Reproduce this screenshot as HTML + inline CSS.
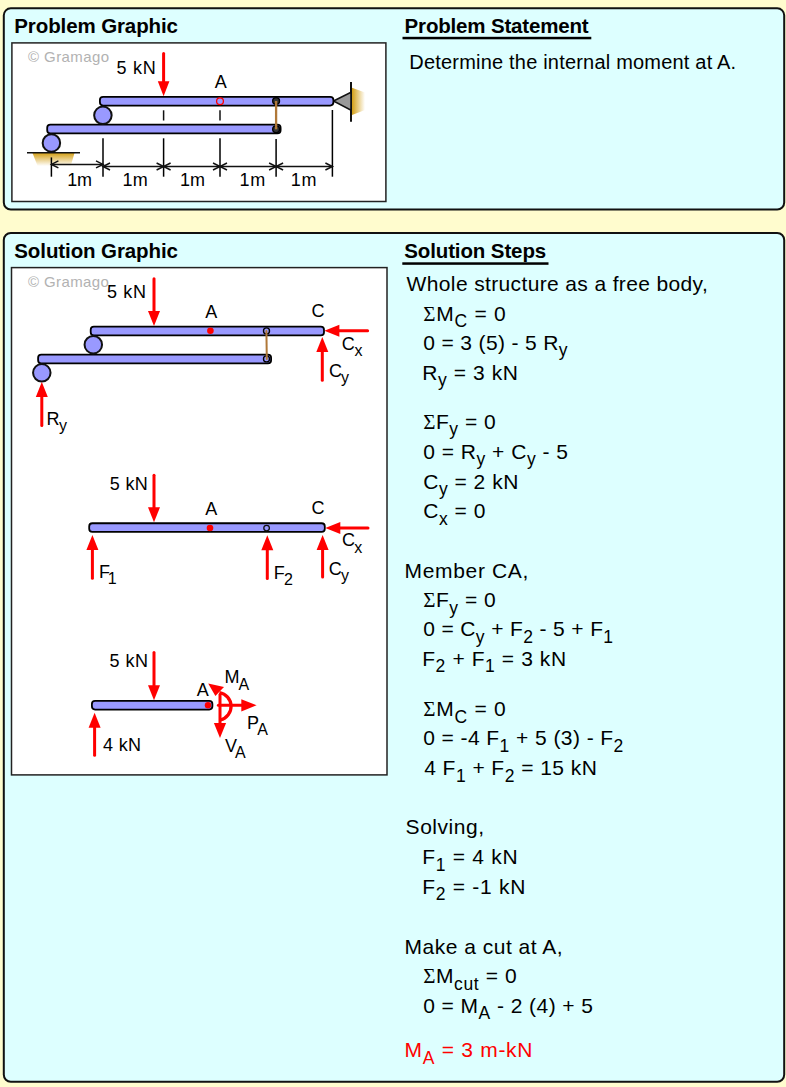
<!DOCTYPE html>
<html><head><meta charset="utf-8"><style>
html,body{margin:0;padding:0;background:#FFFCCE;width:786px;height:1087px;overflow:hidden}
svg{position:absolute;left:0;top:0}
</style></head><body>
<svg width="786" height="1087" viewBox="0 0 786 1087">
<defs>
<linearGradient id="gd" x1="0" y1="0" x2="0" y2="1"><stop offset="0" stop-color="#D4A017"/><stop offset="1" stop-color="#D4A017" stop-opacity="0"/></linearGradient>
<linearGradient id="gr" x1="0" y1="0" x2="1" y2="0"><stop offset="0" stop-color="#D4A017"/><stop offset="1" stop-color="#D4A017" stop-opacity="0"/></linearGradient>
</defs>
<rect x="0" y="0" width="786" height="1087" fill="#FFFCCE"/>
<rect x="3.8" y="8.3" width="780.4" height="201.2" rx="7" fill="#DDFFFF" stroke="#111" stroke-width="2"/>
<rect x="3.8" y="233" width="780.4" height="848.8" rx="7" fill="#DDFFFF" stroke="#111" stroke-width="2"/>
<rect x="11.9" y="42.9" width="374" height="158.6" fill="#fff" stroke="#222" stroke-width="1.5"/>
<rect x="11.5" y="267.6" width="375.5" height="507.3" fill="#fff" stroke="#222" stroke-width="1.5"/>

<text x="14.30" y="33.1" font-family="Liberation Sans" font-size="20.5" font-weight="700" fill="#000" letter-spacing="-0.107" xml:space="preserve">Problem Graphic</text>
<text x="404.60" y="33.4" font-family="Liberation Sans" font-size="20.5" font-weight="700" fill="#000" letter-spacing="-0.175" xml:space="preserve">Problem Statement</text>
<rect x="402.5" y="36.8" width="188.8" height="2.5" fill="#000"/>
<text x="409.30" y="68.5" font-family="Liberation Sans" font-size="20" font-weight="400" fill="#000" letter-spacing="0.197" xml:space="preserve">Determine the internal moment at A.</text>
<text x="14.30" y="258.1" font-family="Liberation Sans" font-size="20.5" font-weight="700" fill="#000" letter-spacing="-0.100" xml:space="preserve">Solution Graphic</text>
<text x="404.20" y="258.1" font-family="Liberation Sans" font-size="20.5" font-weight="700" fill="#000" letter-spacing="-0.115" xml:space="preserve">Solution Steps</text>
<rect x="402.3" y="262.3" width="146.2" height="2.5" fill="#000"/>
<text x="28.10" y="61.8" font-family="Liberation Sans" font-size="15" font-weight="400" fill="#b2b2b2" letter-spacing="0.400" xml:space="preserve">© Gramago</text>
<polygon points="32.5,153 74.5,153 70.7,166 37.6,166" fill="url(#gd)"/>
<line x1="27" y1="152.8" x2="80" y2="152.8" stroke="#111" stroke-width="1.5"/>
<polygon points="352,87.7 365,92.6 365,110 352,115" fill="url(#gr)"/>
<line x1="351" y1="82" x2="351" y2="121.7" stroke="#111" stroke-width="2"/>
<polygon points="333.5,101 351,92.3 351,110.1" fill="#999" stroke="#111" stroke-width="1.6" stroke-linejoin="miter"/>
<rect x="47.199999999999996" y="124.65" width="233.39999999999998" height="8.7" rx="3.2" fill="#9999FF" stroke="#000" stroke-width="1.8"/>
<circle cx="51.4" cy="142.9" r="8.75" fill="#9999FF" stroke="#111" stroke-width="2"/>
<rect x="99.9" y="96.85000000000001" width="233.5" height="8.7" rx="3.2" fill="#9999FF" stroke="#000" stroke-width="1.8"/>
<circle cx="102.9" cy="115.3" r="8.75" fill="#9999FF" stroke="#111" stroke-width="2"/>
<circle cx="276.1" cy="101" r="3.4" fill="#333" stroke="#000" stroke-width="1.4"/>
<circle cx="276.1" cy="129.3" r="3.4" fill="#333" stroke="#000" stroke-width="1.4"/>
<line x1="276.1" y1="101" x2="276.1" y2="129.3" stroke="#B07838" stroke-width="2.3"/>
<circle cx="220" cy="101.2" r="3.4" fill="#9999FF" stroke="#FF0000" stroke-width="1.3"/>
<line x1="163.6" y1="110.3" x2="163.6" y2="120.5" stroke="#111" stroke-width="1.5"/>
<line x1="220" y1="110.3" x2="220" y2="120.5" stroke="#111" stroke-width="1.5"/>
<line x1="51.4" y1="157.4" x2="51.4" y2="176.7" stroke="#000" stroke-width="1.5"/>
<line x1="103" y1="138.3" x2="103" y2="176.7" stroke="#000" stroke-width="1.5"/>
<line x1="163.6" y1="138.3" x2="163.6" y2="176.7" stroke="#000" stroke-width="1.5"/>
<line x1="220" y1="138.3" x2="220" y2="176.7" stroke="#000" stroke-width="1.5"/>
<line x1="276.1" y1="139" x2="276.1" y2="176.7" stroke="#000" stroke-width="1.5"/>
<line x1="332.4" y1="110" x2="332.4" y2="176.7" stroke="#000" stroke-width="1.5"/>
<line x1="51.4" y1="164.4" x2="103" y2="164.4" stroke="#111" stroke-width="1.5"/>
<line x1="103" y1="166.5" x2="332.4" y2="166.5" stroke="#111" stroke-width="1.5"/>
<polyline points="58.4,160.9 51.4,164.4 58.4,167.9" fill="none" stroke="#111" stroke-width="1.5"/>
<polyline points="96,160.9 103,164.4 96,167.9" fill="none" stroke="#111" stroke-width="1.5"/>
<polyline points="110,163.0 103,166.5 110,170.0" fill="none" stroke="#111" stroke-width="1.5"/>
<polyline points="156.6,163.0 163.6,166.5 156.6,170.0" fill="none" stroke="#111" stroke-width="1.5"/>
<polyline points="170.6,163.0 163.6,166.5 170.6,170.0" fill="none" stroke="#111" stroke-width="1.5"/>
<polyline points="213,163.0 220,166.5 213,170.0" fill="none" stroke="#111" stroke-width="1.5"/>
<polyline points="227,163.0 220,166.5 227,170.0" fill="none" stroke="#111" stroke-width="1.5"/>
<polyline points="269.1,163.0 276.1,166.5 269.1,170.0" fill="none" stroke="#111" stroke-width="1.5"/>
<polyline points="283.1,163.0 276.1,166.5 283.1,170.0" fill="none" stroke="#111" stroke-width="1.5"/>
<polyline points="325.4,163.0 332.4,166.5 325.4,170.0" fill="none" stroke="#111" stroke-width="1.5"/>
<text x="67.20" y="185.8" font-family="Liberation Sans" font-size="18" font-weight="400" fill="#000" letter-spacing="-0.200" xml:space="preserve">1m</text>
<text x="122.50" y="185.8" font-family="Liberation Sans" font-size="18" font-weight="400" fill="#000" letter-spacing="0.200" xml:space="preserve">1m</text>
<text x="179.90" y="185.8" font-family="Liberation Sans" font-size="18" font-weight="400" fill="#000" letter-spacing="0.100" xml:space="preserve">1m</text>
<text x="239.60" y="185.8" font-family="Liberation Sans" font-size="18" font-weight="400" fill="#000" letter-spacing="0.700" xml:space="preserve">1m</text>
<text x="290.80" y="185.8" font-family="Liberation Sans" font-size="18" font-weight="400" fill="#000" letter-spacing="0.600" xml:space="preserve">1m</text>
<line x1="163.6" y1="53.5" x2="163.60" y2="82.30" stroke="#FF0000" stroke-width="3" stroke-linecap="round"/><polygon points="163.60,96.30 157.80,81.30 169.40,81.30" fill="#FF0000"/>
<text x="116.40" y="74" font-family="Liberation Sans" font-size="18" font-weight="400" fill="#000" letter-spacing="0.767" xml:space="preserve">5 kN</text>
<text x="214.70" y="87.7" font-family="Liberation Sans" font-size="18" font-weight="400" fill="#000" letter-spacing="0.000" xml:space="preserve">A</text>
<text x="28.00" y="286.7" font-family="Liberation Sans" font-size="15" font-weight="400" fill="#b2b2b2" letter-spacing="0.387" xml:space="preserve">© Gramago</text>
<rect x="38.1" y="354.65" width="233.0" height="8.7" rx="3.2" fill="#9999FF" stroke="#000" stroke-width="1.8"/>
<circle cx="41.8" cy="372.8" r="8.75" fill="#9999FF" stroke="#111" stroke-width="2"/>
<rect x="90.7" y="326.65" width="233.29999999999995" height="8.7" rx="3.2" fill="#9999FF" stroke="#000" stroke-width="1.8"/>
<circle cx="93.3" cy="344.7" r="8.75" fill="#9999FF" stroke="#111" stroke-width="2"/>
<circle cx="266.5" cy="330.9" r="3" fill="#9999FF" stroke="#000" stroke-width="1.4"/>
<circle cx="266.5" cy="358.9" r="3" fill="#9999FF" stroke="#000" stroke-width="1.4"/>
<line x1="266.4" y1="330.9" x2="266.8" y2="359" stroke="#B07838" stroke-width="2" stroke-linecap="round"/>
<circle cx="210.4" cy="330.7" r="3.3" fill="#FF0000"/>
<line x1="154" y1="278.8" x2="154.00" y2="312.00" stroke="#FF0000" stroke-width="3" stroke-linecap="round"/><polygon points="154.00,326.00 148.00,311.00 160.00,311.00" fill="#FF0000"/>
<line x1="41.8" y1="425.5" x2="41.80" y2="396.00" stroke="#FF0000" stroke-width="3" stroke-linecap="round"/><polygon points="41.80,382.00 47.80,397.00 35.80,397.00" fill="#FF0000"/>
<line x1="367.6" y1="330.7" x2="338.40" y2="330.70" stroke="#FF0000" stroke-width="3" stroke-linecap="round"/><polygon points="324.40,330.70 339.40,324.70 339.40,336.70" fill="#FF0000"/>
<line x1="322.3" y1="380.3" x2="322.30" y2="351.00" stroke="#FF0000" stroke-width="3" stroke-linecap="round"/><polygon points="322.30,337.00 328.30,352.00 316.30,352.00" fill="#FF0000"/>
<text x="107.10" y="298.1" font-family="Liberation Sans" font-size="18" font-weight="400" fill="#000" letter-spacing="0.633" xml:space="preserve">5 kN</text>
<text x="205.20" y="317.5" font-family="Liberation Sans" font-size="18" font-weight="400" fill="#000" letter-spacing="0.000" xml:space="preserve">A</text>
<text x="311.60" y="317.2" font-family="Liberation Sans" font-size="18" font-weight="400" fill="#000" letter-spacing="0.000" xml:space="preserve">C</text>
<text x="341.70" y="349.8" font-family="Liberation Sans" font-size="18" font-weight="400" fill="#000" letter-spacing="-0.200" xml:space="preserve">C<tspan font-size="16" dy="6.3">x</tspan><tspan dy="-6.3"> </tspan></text>
<text x="329.00" y="376.5" font-family="Liberation Sans" font-size="18" font-weight="400" fill="#000" letter-spacing="-1.000" xml:space="preserve">C<tspan font-size="16" dy="6.3">y</tspan><tspan dy="-6.3"> </tspan></text>
<text x="46.50" y="424.8" font-family="Liberation Sans" font-size="18" font-weight="400" fill="#000" letter-spacing="-0.500" xml:space="preserve">R<tspan font-size="16" dy="6.3">y</tspan><tspan dy="-6.3"> </tspan></text>
<rect x="89.2" y="523.25" width="235.59999999999997" height="8.7" rx="3.2" fill="#9999FF" stroke="#000" stroke-width="1.8"/>
<circle cx="266.6" cy="528.1" r="2.8" fill="#9999FF" stroke="#111" stroke-width="1.3"/>
<circle cx="210" cy="528" r="3.3" fill="#FF0000"/>
<line x1="154" y1="475.3" x2="154.00" y2="508.30" stroke="#FF0000" stroke-width="3" stroke-linecap="round"/><polygon points="154.00,522.30 148.00,507.30 160.00,507.30" fill="#FF0000"/>
<line x1="92.4" y1="578.3" x2="92.40" y2="549.00" stroke="#FF0000" stroke-width="3" stroke-linecap="round"/><polygon points="92.40,535.00 98.40,550.00 86.40,550.00" fill="#FF0000"/>
<line x1="267.3" y1="578.5" x2="267.30" y2="549.20" stroke="#FF0000" stroke-width="3" stroke-linecap="round"/><polygon points="267.30,535.20 273.30,550.20 261.30,550.20" fill="#FF0000"/>
<line x1="322.6" y1="577.1" x2="322.60" y2="549.00" stroke="#FF0000" stroke-width="3" stroke-linecap="round"/><polygon points="322.60,535.00 328.60,550.00 316.60,550.00" fill="#FF0000"/>
<line x1="368" y1="528.1" x2="339.30" y2="528.10" stroke="#FF0000" stroke-width="3" stroke-linecap="round"/><polygon points="325.30,528.10 340.30,522.10 340.30,534.10" fill="#FF0000"/>
<text x="109.70" y="490" font-family="Liberation Sans" font-size="18" font-weight="400" fill="#000" letter-spacing="0.367" xml:space="preserve">5 kN</text>
<text x="205.30" y="514.7" font-family="Liberation Sans" font-size="18" font-weight="400" fill="#000" letter-spacing="0.000" xml:space="preserve">A</text>
<text x="311.40" y="514" font-family="Liberation Sans" font-size="18" font-weight="400" fill="#000" letter-spacing="0.000" xml:space="preserve">C</text>
<text x="342.00" y="546.4" font-family="Liberation Sans" font-size="18" font-weight="400" fill="#000" letter-spacing="-0.700" xml:space="preserve">C<tspan font-size="16" dy="6.3">x</tspan><tspan dy="-6.3"> </tspan></text>
<text x="99.00" y="577.6" font-family="Liberation Sans" font-size="18" font-weight="400" fill="#000" letter-spacing="-2.200" xml:space="preserve">F<tspan font-size="16" dy="6.3">1</tspan><tspan dy="-6.3"> </tspan></text>
<text x="273.80" y="578.6" font-family="Liberation Sans" font-size="18" font-weight="400" fill="#000" letter-spacing="-0.800" xml:space="preserve">F<tspan font-size="16" dy="6.3">2</tspan><tspan dy="-6.3"> </tspan></text>
<text x="328.80" y="575.1" font-family="Liberation Sans" font-size="18" font-weight="400" fill="#000" letter-spacing="-0.700" xml:space="preserve">C<tspan font-size="16" dy="6.3">y</tspan><tspan dy="-6.3"> </tspan></text>
<rect x="91.9" y="700.85" width="120.50000000000001" height="8.7" rx="3.2" fill="#9999FF" stroke="#000" stroke-width="1.8"/>
<circle cx="208" cy="705.3" r="3.2" fill="#FF0000"/>
<line x1="154" y1="652.6" x2="154.00" y2="686.20" stroke="#FF0000" stroke-width="3" stroke-linecap="round"/><polygon points="154.00,700.20 148.00,685.20 160.00,685.20" fill="#FF0000"/>
<line x1="94.6" y1="755.3" x2="94.60" y2="726.80" stroke="#FF0000" stroke-width="3" stroke-linecap="round"/><polygon points="94.60,712.80 100.60,727.80 88.60,727.80" fill="#FF0000"/>
<line x1="220" y1="694.6" x2="220.00" y2="723.90" stroke="#FF0000" stroke-width="3" stroke-linecap="round"/><polygon points="220.00,737.90 213.90,722.90 226.10,722.90" fill="#FF0000"/>
<line x1="218.4" y1="705.3" x2="242.30" y2="705.30" stroke="#FF0000" stroke-width="3" stroke-linecap="round"/><polygon points="256.60,705.30 241.30,711.40 241.30,699.20" fill="#FF0000"/>
<path d="M220.4,720 A14,14 0 0 0 219.4,692.6" fill="none" stroke="#FF0000" stroke-width="3.3"/>
<polygon points="208.2,683.4 215.4,695.9 224,686.9" fill="#FF0000"/>
<text x="109.60" y="667.4" font-family="Liberation Sans" font-size="18" font-weight="400" fill="#000" letter-spacing="0.467" xml:space="preserve">5 kN</text>
<text x="196.80" y="696" font-family="Liberation Sans" font-size="18" font-weight="400" fill="#000" letter-spacing="0.000" xml:space="preserve">A</text>
<text x="224.50" y="683.4" font-family="Liberation Sans" font-size="18" font-weight="400" fill="#000" letter-spacing="-1.000" xml:space="preserve">M<tspan font-size="16" dy="6.3">A</tspan><tspan dy="-6.3"> </tspan></text>
<text x="246.90" y="729" font-family="Liberation Sans" font-size="18" font-weight="400" fill="#000" letter-spacing="-1.600" xml:space="preserve">P<tspan font-size="16" dy="6.3">A</tspan><tspan dy="-6.3"> </tspan></text>
<text x="225.00" y="752" font-family="Liberation Sans" font-size="18" font-weight="400" fill="#000" letter-spacing="-2.100" xml:space="preserve">V<tspan font-size="16" dy="6.3">A</tspan><tspan dy="-6.3"> </tspan></text>
<text x="103.00" y="750.5" font-family="Liberation Sans" font-size="18" font-weight="400" fill="#000" letter-spacing="0.333" xml:space="preserve">4 kN</text>
<text x="406.60" y="290.8" font-family="Liberation Sans" font-size="21" font-weight="400" fill="#000" letter-spacing="0.363" xml:space="preserve">Whole structure as a free body,</text>
<text x="423.20" y="320.5" font-family="Liberation Sans" font-size="21" font-weight="400" fill="#000" letter-spacing="0.750" xml:space="preserve"><tspan font-family="Liberation Serif">Σ</tspan>M<tspan font-size="17.5" dy="6.4">C</tspan><tspan dy="-6.4"> </tspan>= 0</text>
<text x="423.20" y="349.5" font-family="Liberation Sans" font-size="21" font-weight="400" fill="#000" letter-spacing="0.367" xml:space="preserve">0 = 3 (5) - 5 R<tspan font-size="17.5" dy="6.4">y</tspan><tspan dy="-6.4"> </tspan></text>
<text x="422.20" y="379.5" font-family="Liberation Sans" font-size="21" font-weight="400" fill="#000" letter-spacing="0.600" xml:space="preserve">R<tspan font-size="17.5" dy="6.4">y</tspan><tspan dy="-6.4"> </tspan>= 3 kN</text>
<text x="423.20" y="429" font-family="Liberation Sans" font-size="21" font-weight="400" fill="#000" letter-spacing="0.517" xml:space="preserve"><tspan font-family="Liberation Serif">Σ</tspan>F<tspan font-size="17.5" dy="6.4">y</tspan><tspan dy="-6.4"> </tspan>= 0</text>
<text x="423.20" y="458.5" font-family="Liberation Sans" font-size="21" font-weight="400" fill="#000" letter-spacing="0.507" xml:space="preserve">0 = R<tspan font-size="17.5" dy="6.4">y</tspan><tspan dy="-6.4"> </tspan>+ C<tspan font-size="17.5" dy="6.4">y</tspan><tspan dy="-6.4"> </tspan>- 5</text>
<text x="423.20" y="488.5" font-family="Liberation Sans" font-size="21" font-weight="400" fill="#000" letter-spacing="0.512" xml:space="preserve">C<tspan font-size="17.5" dy="6.4">y</tspan><tspan dy="-6.4"> </tspan>= 2 kN</text>
<text x="423.20" y="518.4" font-family="Liberation Sans" font-size="21" font-weight="400" fill="#000" letter-spacing="0.540" xml:space="preserve">C<tspan font-size="17.5" dy="6.4">x</tspan><tspan dy="-6.4"> </tspan>= 0</text>
<text x="404.60" y="577.5" font-family="Liberation Sans" font-size="21" font-weight="400" fill="#000" letter-spacing="0.656" xml:space="preserve">Member CA,</text>
<text x="423.20" y="607.4" font-family="Liberation Sans" font-size="21" font-weight="400" fill="#000" letter-spacing="0.517" xml:space="preserve"><tspan font-family="Liberation Serif">Σ</tspan>F<tspan font-size="17.5" dy="6.4">y</tspan><tspan dy="-6.4"> </tspan>= 0</text>
<text x="423.20" y="636.4" font-family="Liberation Sans" font-size="21" font-weight="400" fill="#000" letter-spacing="0.368" xml:space="preserve">0 = C<tspan font-size="17.5" dy="6.4">y</tspan><tspan dy="-6.4"> </tspan>+ F<tspan font-size="17.5" dy="6.4">2</tspan><tspan dy="-6.4"> </tspan>- 5 + F<tspan font-size="17.5" dy="6.4">1</tspan><tspan dy="-6.4"> </tspan></text>
<text x="422.20" y="666" font-family="Liberation Sans" font-size="21" font-weight="400" fill="#000" letter-spacing="0.592" xml:space="preserve">F<tspan font-size="17.5" dy="6.4">2</tspan><tspan dy="-6.4"> </tspan>+ F<tspan font-size="17.5" dy="6.4">1</tspan><tspan dy="-6.4"> </tspan>= 3 kN</text>
<text x="423.20" y="716.4" font-family="Liberation Sans" font-size="21" font-weight="400" fill="#000" letter-spacing="0.750" xml:space="preserve"><tspan font-family="Liberation Serif">Σ</tspan>M<tspan font-size="17.5" dy="6.4">C</tspan><tspan dy="-6.4"> </tspan>= 0</text>
<text x="423.20" y="745.4" font-family="Liberation Sans" font-size="21" font-weight="400" fill="#000" letter-spacing="0.433" xml:space="preserve">0 = -4 F<tspan font-size="17.5" dy="6.4">1</tspan><tspan dy="-6.4"> </tspan>+ 5 (3) - F<tspan font-size="17.5" dy="6.4">2</tspan><tspan dy="-6.4"> </tspan></text>
<text x="424.20" y="775.3" font-family="Liberation Sans" font-size="21" font-weight="400" fill="#000" letter-spacing="0.450" xml:space="preserve">4 F<tspan font-size="17.5" dy="6.4">1</tspan><tspan dy="-6.4"> </tspan>+ F<tspan font-size="17.5" dy="6.4">2</tspan><tspan dy="-6.4"> </tspan>= 15 kN</text>
<text x="405.60" y="834.4" font-family="Liberation Sans" font-size="21" font-weight="400" fill="#000" letter-spacing="0.543" xml:space="preserve">Solving,</text>
<text x="422.20" y="864.4" font-family="Liberation Sans" font-size="21" font-weight="400" fill="#000" letter-spacing="0.725" xml:space="preserve">F<tspan font-size="17.5" dy="6.4">1</tspan><tspan dy="-6.4"> </tspan>= 4 kN</text>
<text x="422.20" y="894" font-family="Liberation Sans" font-size="21" font-weight="400" fill="#000" letter-spacing="0.722" xml:space="preserve">F<tspan font-size="17.5" dy="6.4">2</tspan><tspan dy="-6.4"> </tspan>= -1 kN</text>
<text x="404.60" y="953.5" font-family="Liberation Sans" font-size="21" font-weight="400" fill="#000" letter-spacing="0.493" xml:space="preserve">Make a cut at A,</text>
<text x="423.20" y="983.4" font-family="Liberation Sans" font-size="21" font-weight="400" fill="#000" letter-spacing="0.600" xml:space="preserve"><tspan font-family="Liberation Serif">Σ</tspan>M<tspan font-size="17.5" dy="6.4">cut</tspan><tspan dy="-6.4"> </tspan>= 0</text>
<text x="423.20" y="1013" font-family="Liberation Sans" font-size="21" font-weight="400" fill="#000" letter-spacing="0.447" xml:space="preserve">0 = M<tspan font-size="17.5" dy="6.4">A</tspan><tspan dy="-6.4"> </tspan>- 2 (4) + 5</text>
<text x="404.60" y="1057.3" font-family="Liberation Sans" font-size="21" font-weight="400" fill="#FF0000" letter-spacing="0.710" xml:space="preserve">M<tspan font-size="17.5" dy="6.4">A</tspan><tspan dy="-6.4"> </tspan>= 3 m-kN</text>
</svg></body></html>
